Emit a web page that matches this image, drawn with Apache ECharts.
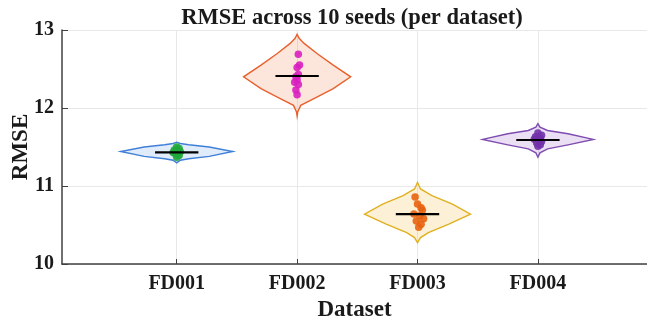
<!DOCTYPE html>
<html><head><meta charset="utf-8">
<script src="https://cdn.jsdelivr.net/npm/echarts@6/dist/echarts.min.js"></script>
<style>html,body{margin:0;padding:0;background:#fff}#c{width:647px;height:322px}</style>
</head><body><div id="c"></div>
<script>
const categories = ['FD001', 'FD002', 'FD003', 'FD004'];
const positions = [1, 2, 3, 4];
const yTicks = [10, 11, 12, 13];

// RMSE values for 10 seeds per dataset
const fd001 = [11.50, 11.48, 11.46, 11.44, 11.43, 11.43, 11.42, 11.41, 11.39, 11.37];
const fd002 = [12.69, 12.55, 12.52, 12.43, 12.40, 12.36, 12.33, 12.30, 12.23, 12.17];
const fd003 = [10.86, 10.77, 10.72, 10.69, 10.64, 10.62, 10.58, 10.55, 10.51, 10.47];
const fd004 = [11.68, 11.65, 11.63, 11.61, 11.60, 11.59, 11.57, 11.55, 11.53, 11.51];

// horizontal jitter of the dots (x units)
const jit001 = [0.00, 0.02, -0.02, 0.03, 0.00, -0.03, 0.01, -0.01, 0.02, 0.00];
const jit002 = [0.01, 0.02, 0.00, 0.01, -0.01, 0.00, -0.02, 0.01, -0.01, 0.00];
const jit003 = [-0.02, 0.00, 0.03, 0.04, -0.03, 0.02, 0.05, -0.01, 0.03, 0.01];
const jit004 = [0.00, 0.03, -0.02, 0.02, -0.03, 0.01, 0.03, -0.01, 0.02, 0.00];

// line markers (centre values)
const centerLine = [11.43, 12.41, 10.64, 11.59];

// violin outlines: [value, half width]
const violin001 = [[11.296,0],[11.33,0.03],[11.35,0.10],[11.38,0.27],[11.442,0.465],[11.50,0.27],[11.528,0.10],[11.545,0.03],[11.562,0]];
const violin002 = [[11.897,0],[11.948,0.005],[12.034,0.03],[12.12,0.14],[12.249,0.30],[12.40,0.445],[12.549,0.30],[12.699,0.165],[12.828,0.058],[12.893,0.017],[12.944,0]];
const violin003 = [[10.274,0],[10.339,0.025],[10.403,0.09],[10.511,0.26],[10.64,0.44],[10.769,0.29],[10.876,0.12],[10.962,0.025],[11.047,0]];
const violin004 = [[11.369,0],[11.425,0.017],[11.477,0.08],[11.528,0.25],[11.597,0.46],[11.67,0.25],[11.712,0.08],[11.755,0.017],[11.80,0]];

const edgeColors = ['#3f7fd8', '#e8602c', '#e0b020', '#7e4bb0'];
const fillColors = ['rgba(120,170,235,0.22)', 'rgba(240,140,90,0.22)', 'rgba(245,200,90,0.25)', 'rgba(160,110,200,0.22)'];
const dotColors = ['#1fa83a', '#d91fc0', '#e8620f', '#7230a8'];

const seriesData = [fd001, fd002, fd003, fd004];
const jitters = [jit001, jit002, jit003, jit004];
const violins = [violin001, violin002, violin003, violin004];

const FONT = '"Liberation Serif","Times New Roman",serif';

const series = [];
// violins
series.push({
  type: 'custom',
  data: positions.map((p, i) => [p, i]),
  renderItem: function (params, api) {
    const p = api.value(0), i = api.value(1);
    const prof = violins[i];
    const pts = [];
    for (let k = 0; k < prof.length; k++) pts.push(api.coord([p + prof[k][1], prof[k][0]]));
    for (let k = prof.length - 1; k >= 0; k--) pts.push(api.coord([p - prof[k][1], prof[k][0]]));
    return {
      type: 'polygon',
      shape: { points: pts },
      style: { fill: fillColors[i], stroke: edgeColors[i], lineWidth: 1.4 }
    };
  },
  z: 2
});
// dots
seriesData.forEach((vals, i) => {
  series.push({
    type: 'scatter',
    symbolSize: 7.5,
    itemStyle: { color: dotColors[i], opacity: 0.9 },
    data: vals.map((v, k) => [positions[i] + jitters[i][k], v]),
    z: 3
  });
});
// centre lines
series.push({
  type: 'custom',
  data: positions.map((p, i) => [p, centerLine[i]]),
  renderItem: function (params, api) {
    const p = api.value(0), v = api.value(1);
    const a = api.coord([p - 0.18, v]), b = api.coord([p + 0.18, v]);
    return { type: 'line', shape: { x1: a[0], y1: a[1], x2: b[0], y2: b[1] }, style: { stroke: '#000', lineWidth: 2.2 } };
  },
  z: 4
});

const chart = echarts.init(document.getElementById('c'), null, { renderer: 'canvas' });
chart.setOption({
  backgroundColor: '#fff',
  animation: false,
  title: {
    text: 'RMSE across 10 seeds (per dataset)',
    left: 347, textAlign: 'center', top: 2,
    textStyle: { fontFamily: FONT, fontWeight: 'bold', fontSize: 22.5, color: '#1a1a1a' }
  },
  grid: { left: 62, right: 0, top: 30, bottom: 58, containLabel: false, outerBoundsMode: 'none' },
  xAxis: {
    type: 'value', min: 0.0473, max: 4.906,
    name: 'Dataset', nameLocation: 'middle', nameGap: 33,
    nameTextStyle: { fontFamily: FONT, fontWeight: 'bold', fontSize: 23, color: '#1a1a1a' },
    axisLine: { lineStyle: { color: '#404040', width: 1.5 } },
    axisTick: { inside: true, length: 5, customValues: positions, lineStyle: { color: '#404040' } },
    axisLabel: {
      customValues: positions, margin: 10,
      formatter: v => categories[Math.round(v) - 1],
      fontFamily: FONT, fontWeight: 'bold', fontSize: 20, color: '#1a1a1a'
    },
    splitLine: { show: true, lineStyle: { color: '#e8e8e8', width: 1 } }
  },
  yAxis: {
    type: 'value', min: yTicks[0], max: yTicks[yTicks.length - 1], interval: 1,
    name: 'RMSE', nameLocation: 'middle', nameGap: 29, nameMoveOverlap: false,
    nameTextStyle: { fontFamily: FONT, fontWeight: 'bold', fontSize: 23, color: '#1a1a1a' },
    axisLine: { show: true, lineStyle: { color: '#404040', width: 1.5 } },
    axisTick: { show: true, inside: true, length: 6, lineStyle: { color: '#404040' } },
    axisLabel: { margin: 8, fontFamily: FONT, fontWeight: 'bold', fontSize: 20, color: '#1a1a1a' },
    splitLine: { show: true, lineStyle: { color: '#e8e8e8', width: 1 } }
  },
  series: series
});
</script></body></html>
